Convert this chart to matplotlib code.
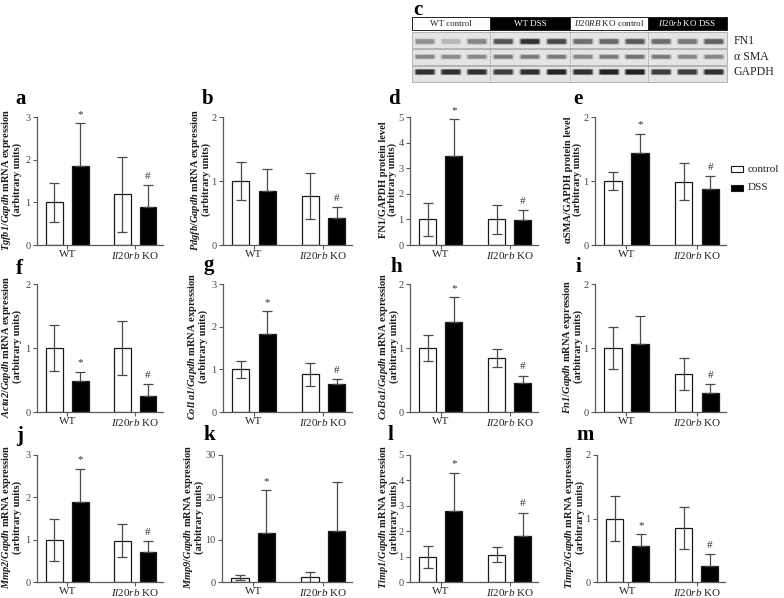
import matplotlib.pyplot as plt
from matplotlib.patches import Rectangle, FancyBboxPatch
import numpy as np

plt.rcParams['font.family'] = ['Liberation Serif', 'DejaVu Serif']
plt.rcParams['mathtext.fontset'] = 'custom'
plt.rcParams['mathtext.rm'] = 'Liberation Serif'
plt.rcParams['mathtext.it'] = 'Liberation Serif:italic'
plt.rcParams['mathtext.bf'] = 'Liberation Serif:bold'
plt.rcParams['mathtext.bfit'] = 'Liberation Serif:italic:bold'

# ---- data: mean and SD for WT control, WT DSS, KO control, KO DSS ----
groups = ['WT', r'$\mathit{Il20rb}$ KO']
conditions = ['control', 'DSS']

a_mean = [1.00, 1.86, 1.19, 0.88]
a_sd = [0.46, 1.00, 0.88, 0.53]
b_mean = [1.00, 0.84, 0.76, 0.42]
b_sd = [0.29, 0.35, 0.36, 0.17]
d_mean = [1.00, 3.49, 1.00, 0.97]
d_sd = [0.66, 1.42, 0.58, 0.41]
e_mean = [1.00, 1.44, 0.99, 0.87]
e_sd = [0.14, 0.30, 0.29, 0.21]
f_mean = [1.00, 0.49, 1.00, 0.25]
f_sd = [0.36, 0.14, 0.42, 0.18]
g_mean = [1.00, 1.82, 0.88, 0.65]
g_sd = [0.20, 0.55, 0.27, 0.12]
h_mean = [1.00, 1.40, 0.85, 0.46]
h_sd = [0.20, 0.40, 0.14, 0.11]
i_mean = [1.00, 1.07, 0.60, 0.29]
i_sd = [0.33, 0.43, 0.25, 0.15]
j_mean = [1.00, 1.90, 0.98, 0.72]
j_sd = [0.50, 0.78, 0.38, 0.24]
k_mean = [1.0, 11.6, 1.1, 12.0]
k_sd = [0.6, 10.1, 1.25, 11.7]
l_mean = [1.00, 2.79, 1.08, 1.82]
l_sd = [0.43, 1.52, 0.28, 0.91]
m_mean = [1.00, 0.57, 0.85, 0.25]
m_sd = [0.36, 0.18, 0.33, 0.19]

# significance marks over WT DSS / KO DSS
a_marks = ['*', '#']
b_marks = ['', '#']
d_marks = ['*', '#']
e_marks = ['*', '#']
f_marks = ['*', '#']
g_marks = ['*', '#']
h_marks = ['*', '#']
i_marks = ['', '#']
j_marks = ['*', '#']
k_marks = ['*', '']
l_marks = ['*', '#']
m_marks = ['*', '#']

a_ticks = [0, 1, 2, 3]
b_ticks = [0, 1, 2]
d_ticks = [0, 1, 2, 3, 4, 5]
e_ticks = [0, 1, 2]
f_ticks = [0, 1, 2]
g_ticks = [0, 1, 2, 3]
h_ticks = [0, 1, 2]
i_ticks = [0, 1, 2]
j_ticks = [0, 1, 2, 3]
k_ticks = [0, 10, 20, 30]
l_ticks = [0, 1, 2, 3, 4, 5]
m_ticks = [0, 1, 2]

unit = '\n(arbitrary units)'
a_label = r'$\mathbfit{Tgfb1}$/$\mathbfit{Gapdh}$ mRNA expression' + unit
b_label = r'$\mathbfit{Pdgfb}$/$\mathbfit{Gapdh}$ mRNA expression' + unit
d_label = 'FN1/GAPDH protein level' + unit
e_label = 'αSMA/GAPDH protein level' + unit
f_label = r'$\mathbfit{Acta2}$/$\mathbfit{Gapdh}$ mRNA expression' + unit
g_label = r'$\mathbfit{Col1a1}$/$\mathbfit{Gapdh}$ mRNA expression' + unit
h_label = r'$\mathbfit{Col3a1}$/$\mathbfit{Gapdh}$ mRNA expression' + unit
i_label = r'$\mathbfit{Fn1}$/$\mathbfit{Gapdh}$ mRNA expression' + unit
j_label = r'$\mathbfit{Mmp2}$/$\mathbfit{Gapdh}$ mRNA expression' + unit
k_label = r'$\mathbfit{Mmp9}$/$\mathbfit{Gapdh}$ mRNA expression' + unit
l_label = r'$\mathbfit{Timp1}$/$\mathbfit{Gapdh}$ mRNA expression' + unit
m_label = r'$\mathbfit{Timp2}$/$\mathbfit{Gapdh}$ mRNA expression' + unit

# western blot (panel c): band darkness per lane, 3 lanes per group
blot_groups = ['WT control', 'WT DSS', r'$\mathit{Il20RB}$ KO control', r'$\mathit{Il20rb}$ KO DSS']
blot_rows = ['FN1', 'α SMA', 'GAPDH']
fn1_bands = [0.45, 0.30, 0.50, 0.70, 0.85, 0.75, 0.60, 0.62, 0.68, 0.60, 0.55, 0.65]
sma_bands = [0.50, 0.48, 0.50, 0.55, 0.55, 0.55, 0.50, 0.55, 0.58, 0.55, 0.50, 0.50]
gapdh_bands = [0.85, 0.85, 0.85, 0.80, 0.85, 0.90, 0.85, 0.90, 0.92, 0.80, 0.80, 0.85]

W, H = 784, 598
fig = plt.figure(figsize=(W / 100, H / 100), dpi=100)


def px_axes(x0, y0, x1, y1):
    return fig.add_axes([x0 / W, 1 - y1 / H, (x1 - x0) / W, (y1 - y0) / H])


pos = np.array([0, 1, 2.63, 3.63])
bar_colors = ['white', 'black', 'white', 'black']
axis_gray = '#5a5a5a'


def bar_panel(rect, mean, sd, ticks, marks, label, label_x):
    ax = px_axes(*rect)
    ax.bar(pos, mean, width=0.65, color=bar_colors, edgecolor='#1a1a1a',
           linewidth=0.9, zorder=2)
    for p, mu, s, c in zip(pos, mean, sd, bar_colors):
        lo = s if c == 'white' else 0
        ax.errorbar(p, mu, yerr=[[lo], [s]], fmt='none', ecolor='#4a4a4a',
                    elinewidth=0.9, capsize=3.5, capthick=0.9, zorder=3)
    for idx, mk in zip([1, 3], marks):
        if mk:
            ax.annotate(mk, (pos[idx], mean[idx] + sd[idx]), xytext=(0, 3),
                        textcoords='offset points', ha='center', va='bottom',
                        fontsize=8, color='#333333', annotation_clip=False)
    ax.set_xlim(-0.67, 4.21)
    ax.set_ylim(0, ticks[-1])
    ax.set_yticks(ticks)
    ax.set_xticks([0.5, 3.13])
    ax.set_xticklabels(groups)
    for sp in ['top', 'right']:
        ax.spines[sp].set_visible(False)
    for sp in ['left', 'bottom']:
        ax.spines[sp].set_color(axis_gray)
        ax.spines[sp].set_linewidth(0.9)
    ax.tick_params(axis='y', length=3, width=0.8, colors=axis_gray,
                   labelsize=7.5, labelcolor='#444444', pad=1.5)
    ax.tick_params(axis='x', length=3, width=0.8, colors=axis_gray,
                   labelsize=8, labelcolor='#222222', pad=0.8)
    x0, x1 = rect[0], rect[2]
    ax.text((label_x - x0) / (x1 - x0), 0.51, label, transform=ax.transAxes,
            rotation=90, ha='center', va='center', multialignment='center',
            fontsize=7.5, fontweight='bold', color='#1a1a1a', linespacing=1.05)
    return ax


rows = [(117, 245), (284, 412), (455, 582)]
cols = [(37, 163), (223, 352), (410, 538), (595, 726)]

bar_panel((cols[0][0], rows[0][0], cols[0][1], rows[0][1]), a_mean, a_sd, a_ticks, a_marks, a_label, 11)
bar_panel((cols[1][0], rows[0][0], cols[1][1], rows[0][1]), b_mean, b_sd, b_ticks, b_marks, b_label, 200)
bar_panel((cols[2][0], rows[0][0], cols[2][1], rows[0][1]), d_mean, d_sd, d_ticks, d_marks, d_label, 388)
bar_panel((cols[3][0], rows[0][0], cols[3][1], rows[0][1]), e_mean, e_sd, e_ticks, e_marks, e_label, 573)
bar_panel((cols[0][0], rows[1][0], cols[0][1], rows[1][1]), f_mean, f_sd, f_ticks, f_marks, f_label, 11)
bar_panel((cols[1][0], rows[1][0], cols[1][1], rows[1][1]), g_mean, g_sd, g_ticks, g_marks, g_label, 197)
bar_panel((cols[2][0], rows[1][0], cols[2][1], rows[1][1]), h_mean, h_sd, h_ticks, h_marks, h_label, 388)
bar_panel((cols[3][0], rows[1][0], cols[3][1], rows[1][1]), i_mean, i_sd, i_ticks, i_marks, i_label, 572)
bar_panel((cols[0][0], rows[2][0], cols[0][1], rows[2][1]), j_mean, j_sd, j_ticks, j_marks, j_label, 11)
bar_panel((cols[1][0] - 1, rows[2][0], cols[1][1], rows[2][1]), k_mean, k_sd, k_ticks, k_marks, k_label, 193)
bar_panel((cols[2][0], rows[2][0], cols[2][1], rows[2][1]), l_mean, l_sd, l_ticks, l_marks, l_label, 388)
bar_panel((597, rows[2][0], 725, rows[2][1]), m_mean, m_sd, m_ticks, m_marks, m_label, 574)

# legend to the right of panel e
lg = px_axes(728, 158, 784, 198)
lg.set_xlim(728, 784)
lg.set_ylim(198, 158)
lg.axis('off')
for yy, col, name in zip([169, 188], ['white', 'black'], conditions):
    lg.add_patch(Rectangle((731, yy - 3), 12, 6, facecolor=col, edgecolor='#1a1a1a', linewidth=0.8))
    lg.text(748, yy, name, ha='left', va='center', fontsize=8, color='#222222')

# panel c: western blot
bl = px_axes(405, 12, 784, 86)
bl.set_xlim(405, 784)
bl.set_ylim(86, 12)
bl.axis('off')
edges = [412, 490, 570, 648, 727]
for gi, name in enumerate(blot_groups):
    dark = gi % 2 == 1
    bl.add_patch(Rectangle((edges[gi], 17), edges[gi + 1] - edges[gi], 13,
                           facecolor='black' if dark else 'white',
                           edgecolor='#222222', linewidth=0.7))
    bl.text((edges[gi] + edges[gi + 1]) / 2, 23.5, name, ha='center', va='center',
            fontsize=6.5, color='white' if dark else '#222222')

strip_top = [32, 49, 66]
strip_h = [15.5, 15.5, 16]
band_y = [41.5, 56.8, 72]
band_h = [4.5, 3.5, 4.5]
for ri, (name, bands) in enumerate(zip(blot_rows, [fn1_bands, sma_bands, gapdh_bands])):
    bl.add_patch(Rectangle((412, strip_top[ri]), 315, strip_h[ri], facecolor='#e4e4e4',
                           edgecolor='#aaaaaa', linewidth=0.6))
    for li, dv in enumerate(bands):
        g = li // 3
        cx = edges[g] + (li % 3 + 0.5) * (edges[g + 1] - edges[g]) / 3
        shade = 1 - 0.95 * dv
        halo = 1 - 0.55 * dv
        bl.add_patch(FancyBboxPatch((cx - 10.5, band_y[ri] - band_h[ri] / 2 - 0.8), 21, band_h[ri] + 1.6,
                                    boxstyle='round,pad=0,rounding_size=1.5',
                                    facecolor=(halo, halo, halo), edgecolor='none'))
        bl.add_patch(FancyBboxPatch((cx - 9, band_y[ri] - band_h[ri] / 2), 18, band_h[ri],
                                    boxstyle='round,pad=0,rounding_size=1.5',
                                    facecolor=(shade, shade, shade), edgecolor='none'))
    for xe in edges[1:-1]:
        bl.plot([xe, xe], [strip_top[ri], strip_top[ri] + strip_h[ri]], color='#777777',
                linewidth=0.6, linestyle=':')
    bl.text(734, band_y[ri], name, ha='left', va='center', fontsize=8.5, color='#222222')

# panel letters
letters = ['a', 'b', 'c', 'd', 'e', 'f', 'g', 'h', 'i', 'j', 'k', 'l', 'm']
letter_x = [15, 202, 413, 388, 573, 16, 203, 390, 576, 16, 203, 388, 576]
letter_y = [104, 104, 15, 104, 104, 274, 270, 272, 272, 441, 440, 440, 440]
for t, x, y in zip(letters, letter_x, letter_y):
    fig.text(x / W, 1 - y / H, t, fontsize=15, fontweight='bold', ha='left', va='baseline')

plt.savefig('out.png', dpi=100)
